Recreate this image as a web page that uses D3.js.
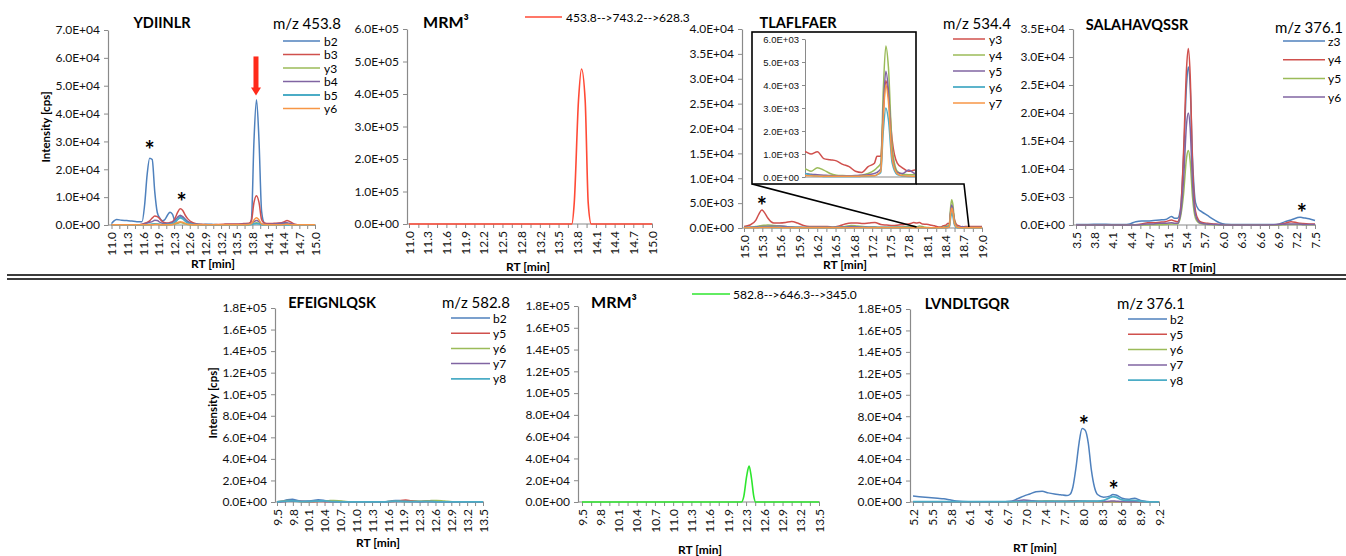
<!DOCTYPE html>
<html><head><meta charset="utf-8">
<script src="https://cdn.jsdelivr.net/npm/d3@7"></script>
<style>
body{margin:0;background:#fff;}
svg{display:block;font-family:Lato,"Open Sans",sans-serif;}
</style></head><body>
<svg id="chart" width="1346" height="556"></svg>
<script>
// ---------------- DATA ----------------
// Panel 1: YDIINLR  m/z 453.8
const p1Names = ["b2","b3","y3","b4","b5","y6"];
const p1XLabels = ["11.0","11.3","11.6","11.9","12.3","12.6","12.9","13.2","13.5","13.8","14.1","14.4","14.7","15.0"];
const p1Time = [11.0,11.05,11.1,11.2,11.3,11.4,11.5,11.6,11.65,11.7,11.75,11.8,11.85,11.9,11.95,12.0,12.05,12.1,12.15,12.2,12.25,12.3,12.35,12.4,12.45,12.5,12.6,12.7,12.8,12.9,13.0,13.1,13.2,13.3,13.4,13.5,13.6,13.7,13.75,13.8,13.85,13.9,13.95,14.0,14.05,14.1,14.2,14.3,14.4,14.45,14.5,14.6,14.7,14.8,14.9,15.0];
const p1B2 = [500,1500,2000,1700,1600,1400,1200,1200, 7000,18000,24000,23500,12000,4500,2500,1500, 2000,3500,4600,3800,1400,2000,3000,2800, 2000,1200,500,300,200,300,200,100, 100,100,100,100,100,200,2000,30000, 45000,30000,5000,800,300,300,400,500, 600,500,300,100,100,100,100,100];
const p1B3 = [100,100,100,100,100,100,100,300, 600,900,1500,2500,3200,3000,2200,1200, 800,700,900,1200,2500,4500,5800,5200, 3500,2200,800,300,200,100,100,200, 300,400,400,400,500,600,1500,8000, 10500,8000,2000,700,500,500,600,700, 1200,1600,1300,300,100,100,100,100];
const p1Y3 = [50,50,50,50,50,50,50,50, 50,50,100,200,300,300,200,100, 100,100,100,200,300,600,900,700, 400,200,100,50,50,50,50,50, 50,50,50,50,50,100,300,600, 800,600,200,100,50,50,50,50, 100,150,100,50,50,50,50,50];
const p1B4 = [100,100,100,100,100,100,100,200, 400,700,1000,1200,1700,1600,1000,600, 500,500,600,900,1800,2800,3500,3000, 2000,1200,400,200,100,100,100,100, 100,200,200,200,300,300,600,1200, 1600,1200,400,300,300,300,400,500, 800,800,600,200,100,100,100,100];
const p1B5 = [50,50,50,50,50,50,50,50, 50,100,200,300,400,300,200,100, 100,200,300,400,1000,2000,2600,2200, 1400,700,200,100,50,50,50,50, 50,50,50,50,50,100,200,400, 500,400,150,50,50,50,50,50, 50,50,50,50,50,50,50,50];
const p1Y6 = [50,50,50,50,50,50,50,50, 50,50,100,100,150,150,100,50, 50,50,100,200,500,900,1200,1000, 600,300,100,50,50,50,50,50, 50,100,100,100,100,200,500,1800, 2600,1800,400,150,100,100,100,100, 200,300,200,100,50,50,50,50];

// Panel 2: MRM3 453.8-->743.2-->628.3
const p2Name = "453.8-->743.2-->628.3";
const p2XLabels = ["11.0","11.3","11.6","11.9","12.2","12.5","12.8","13.2","13.5","13.8","14.1","14.4","14.7","15.0"];
const p2Time = [11.0,12.0,13.0,13.68,13.72,13.79,13.84,13.9,13.95,14.0,15.0];
const p2Val = [0,0,0,0,65000,380000,477000,380000,65000,0,0];

// Panel 3: TLAFLFAER  m/z 534.4
const p3Names = ["y3","y4","y5","y6","y7"];
const p3XLabels = ["15.0","15.3","15.6","15.9","16.2","16.5","16.8","17.2","17.5","17.8","18.1","18.4","18.7","19.0"];
const p3Time = [15.0,15.1,15.2,15.25,15.3,15.35,15.4,
  15.5,15.6,15.7,15.8,15.9,16.0,16.1,16.2,16.3,16.4,16.5,16.6,16.7,16.8,16.9,17.0,17.1,17.2,17.3,17.4,17.5,17.6,17.7,17.8,
  17.85,17.9,17.95,18.0,18.05,18.1,18.15,18.2,18.25,18.3,18.35,
  18.4,18.42,18.45,18.47,18.49,18.51,18.54,18.58,
  18.62,18.67,18.72,18.8,18.9,19.0];
const p3Y3 = [300,600,1600,2800,3600,3000,2000,
  1000,1000,1100,1300,1000,500,300,300,300,300,200,400,800,1000,1000,900,1000,1100,700,600,500,600,700,900,
  1100,1000,1100,800,750,700,550,450,250,200,450,
  600,900,900,2800,4200,3600,1600,600,
  400,250,300,300,300,300];
const p3Y4 = [100,150,300,400,500,550,600,
  500,400,300,200,150,100,100,100,100,100,100,200,300,500,400,300,200,200,150,150,150,200,250,300,
  350,250,400,300,150,80,60,50,50,80,150,
  300,400,600,3800,5700,4800,1300,250,
  120,100,100,100,100,100];
const p3Y5 = [100,150,200,250,300,300,350,
  350,400,300,200,150,100,100,100,100,100,100,150,200,300,250,200,150,150,100,100,100,100,120,120,
  150,120,100,80,60,50,50,50,60,80,100,
  150,200,350,3000,4600,3800,900,200,
  150,300,150,100,100,100];
const p3Y6 = [50,60,80,100,120,120,120,
  100,100,80,60,50,50,50,50,50,50,50,50,50,60,80,100,80,60,50,50,50,50,50,80,
  150,80,40,20,20,20,20,20,20,30,40,
  50,100,200,2000,3000,2500,600,100,
  40,20,20,20,20,20];
const p3Y7 = [50,50,60,80,100,100,100,
  100,80,60,50,50,50,50,50,50,50,50,50,50,50,60,80,60,50,50,50,50,50,50,50,
  60,50,40,30,30,30,30,30,30,40,50,
  50,100,250,2600,4000,3300,800,150,
  60,40,30,30,30,30];
const p3InsetDomain = [17.86,18.72];
const p3ZoomRange = [17.9,18.78];

// Panel 4: SALAHAVQSSR  m/z 376.1
const p4Names = ["z3","y4","y5","y6"];
const p4XLabels = ["3.5","3.8","4.1","4.4","4.7","5.1","5.4","5.7","6.0","6.3","6.6","6.9","7.2","7.5"];
const p4Time = [3.5,3.7,3.9,4.1,4.3,4.4,4.5,4.6, 4.7,4.8,4.9,5.0,5.1,5.15,5.2,5.25, 5.3,5.35,5.38,5.41,5.45,5.5,5.55,5.6, 5.7,5.8,5.9,6.0,6.2,6.4,6.6,6.8, 6.9,7.0,7.1,7.2,7.25,7.3,7.4,7.5];
const p4Z3 = [100,100,150,100,100,200,600,700, 700,800,900,1000,1500,1200,1200,3000, 12000,25000,28200,25000,12000,4000,2800,2400, 1700,1000,400,150,100,100,100,100, 200,600,900,1300,1400,1300,1100,800];
const p4Y4 = [0,0,0,0,0,0,50,200, 400,400,500,600,900,700,600,2500, 13000,28000,31500,27000,11000,2500,900,500, 300,200,100,50,0,0,0,50, 100,300,600,400,300,250,200,200];
const p4Y5 = [0,0,0,0,0,0,0,0, 0,50,50,100,200,200,200,1500, 5500,12000,13300,11500,5000,1200,400,200, 100,50,0,0,0,0,0,0, 0,50,100,100,100,50,50,50];
const p4Y6 = [0,0,0,0,0,0,0,100, 200,200,300,300,400,300,300,2000, 8000,18000,20000,17500,7500,1800,600,300, 150,100,50,0,0,0,0,50, 100,150,200,200,150,100,100,100];

// Panel 5: EFEIGNLQSK  m/z 582.8
const p5Names = ["b2","y5","y6","y7","y8"];
const p5XLabels = ["9.5","9.8","10.1","10.4","10.7","11.0","11.3","11.6","11.9","12.3","12.6","12.9","13.2","13.5"];
const p5Time = [9.5,9.6,9.7,9.8,9.9,10.0,10.1,10.2, 10.3,10.4,10.5,10.6,10.7,10.8,10.9,11.0, 11.2,11.4,11.6,11.7,11.8,11.9,12.0,12.1, 12.2,12.3,12.4,12.5,12.6,12.7,12.8,12.9, 13.0,13.2,13.5];
const p5B2 = [300,800,2000,2500,1500,800,900,1500, 2000,1600,800,500,500,300,200,100, 100,100,300,800,1500,1200,800,700, 600,500,600,500,400,300,200,100, 100,100,100];
const p5Y5 = [200,400,700,800,600,300,200,300, 400,400,300,200,200,100,100,100, 100,100,200,400,800,1500,1800,1200, 700,500,500,400,400,300,200,100, 100,100,100];
const p5Y6 = [200,600,1500,1200,700,400,300,400, 600,900,1200,1500,1200,600,300,100, 100,100,200,500,700,600,500,500, 600,800,1200,1300,1500,1200,600,200, 100,100,100];
const p5Y7 = [100,300,600,800,1000,600,400,500, 800,700,400,300,200,100,100,100, 100,100,100,300,500,500,400,300, 300,300,400,400,300,200,100,100, 100,100,100];
const p5Y8 = [200,500,900,1000,700,400,500,800, 900,1000,600,300,200,100,100,100, 100,100,200,500,800,600,400,300, 300,300,300,300,200,100,100,100, 100,100,100];

// Panel 6: MRM3 582.8-->646.3-->345.0
const p6Name = "582.8-->646.3-->345.0";
const p6XLabels = ["9.5","9.8","10.1","10.4","10.7","11.0","11.3","11.6","11.9","12.3","12.6","12.9","13.2","13.5"];
const p6Time = [9.5,10.5,11.5,12.0,12.19,12.23,12.28,12.32,12.36,12.4,12.43,12.5,13.0,13.5];
const p6Val = [0,0,0,0,0,5000,24000,33000,22000,5000,0,0,0,0];

// Panel 7: LVNDLTGQR  m/z 376.1
const p7Names = ["b2","y5","y6","y7","y8"];
const p7XLabels = ["5.2","5.5","5.8","6.1","6.4","6.7","7.0","7.4","7.7","8.0","8.3","8.6","8.9","9.2"];
const p7Time = [5.2,5.3,5.4,5.5,5.6,5.7,5.8,5.9, 6.0,6.2,6.4,6.6,6.8,6.9,7.0,7.1, 7.2,7.3,7.4,7.5,7.6,7.7,7.75,7.8, 7.85,7.9,7.95,8.0,8.05,8.1,8.15,8.2, 8.3,8.4,8.45,8.5,8.6,8.7,8.8,8.9, 9.0,9.1,9.2];
const p7B2 = [5500,5000,4500,4000,3500,3000,2000,1000, 500,300,300,300,800,3000,5500,7500, 9500,10000,8500,7500,6800,6000,7000,14000, 32000,55000,68500,67000,55000,30000,14000,7000, 4500,5500,7000,6500,3500,2500,3500,1500, 500,200,200];
const p7Y5 = [300,300,300,300,300,300,300,300, 300,300,300,300,300,400,500,500, 500,500,500,500,600,800,1000,1200, 1200,1000,800,600,500,400,400,400, 300,300,300,300,300,300,300,300, 200,200,200];
const p7Y6 = [300,300,300,300,300,300,300,300, 300,300,300,300,300,300,400,500, 600,800,1000,800,500,400,400,400, 400,400,400,400,400,400,400,300, 300,300,300,300,300,300,300,300, 200,200,200];
const p7Y7 = [200,200,200,200,200,200,200,200, 200,200,200,200,400,1000,1800,1500, 800,500,400,400,400,400,400,500, 500,500,500,500,500,400,400,400, 500,800,1000,800,400,300,300,200, 200,200,200];
const p7Y8 = [300,300,300,300,300,300,300,300, 300,300,300,300,300,300,400,500, 500,500,500,500,500,500,500,600, 700,800,800,800,800,800,800,800, 1500,4000,5000,4500,2000,1500,1500,800, 200,100,100];

// ---------------- DRAWING ----------------
const C = {blue:"#4F81BD", red:"#D0504D", green:"#9BBB59", purple:"#8064A2", cyan:"#4BACC6", orange:"#F79646"};
const AXIS = "#8a8a8a";
const TICKFS = 12;
const svg = d3.select("#chart");

function fmtE(v){
  if(v===0) return "0.0E+00";
  const e = Math.floor(Math.log10(v)+1e-9);
  const m = v/Math.pow(10,e);
  return m.toFixed(1)+"E+"+String(e).padStart(2,"0");
}

function drawPanel(p){
  const g = svg.append("g");
  const x = d3.scaleLinear().domain(p.xDomain).range([p.x0,p.x1]);
  const y = d3.scaleLinear().domain([0,p.yMax]).range([p.yBot,p.yTop]);
  // y axis
  const ya = g.append("g").attr("transform",`translate(${p.yAxisX},0)`)
    .call(d3.axisLeft(y).tickValues(d3.range(0,p.yMax+p.yStep/2,p.yStep)).tickSize(4).tickSizeOuter(0).tickPadding(4).tickFormat(fmtE));
  ya.select(".domain").attr("stroke",AXIS).attr("stroke-width",1.2);
  ya.selectAll(".tick line").attr("stroke",AXIS);
  ya.selectAll("text").attr("font-size",TICKFS).attr("fill","#111").attr("font-family","Lato");
  // x axis
  const n = p.xLabels.length;
  const step = (p.xDomain[1]-p.xDomain[0])/(n-1);
  const labelVals = d3.range(n).map(i=>p.xDomain[0]+i*step);
  const minorVals = d3.range(2*n-1).map(i=>p.xDomain[0]+i*step/2);
  const xm = g.append("g").attr("transform",`translate(0,${p.yBot})`)
    .call(d3.axisBottom(x).tickValues(minorVals).tickSize(4).tickFormat(""));
  xm.select(".domain").remove();
  xm.selectAll(".tick line").attr("stroke",AXIS);
  const xa = g.append("g").attr("transform",`translate(0,${p.yBot})`)
    .call(d3.axisBottom(x).tickValues(labelVals).tickSize(0).tickFormat((d,i)=>p.xLabels[i]));
  xa.select(".domain").remove();
  xa.selectAll("text").attr("transform","rotate(-90)").attr("text-anchor","end")
    .attr("x",-7).attr("y",0).attr("dy","0.35em").attr("font-size",TICKFS).attr("fill","#111").attr("font-family","Lato");
  g.append("line").attr("x1",p.yAxisX).attr("x2",p.x1+1).attr("y1",p.yBot).attr("y2",p.yBot)
    .attr("stroke",AXIS).attr("stroke-width",1.2);
  // series
  const line = d3.line().x((d,i)=>x(p.times[i])).y(d=>y(d)).curve(d3.curveMonotoneX);
  p.series.forEach(s=>{
    g.append("path").attr("d",line(s.values)).attr("fill","none")
      .attr("stroke",s.color).attr("stroke-width",s.width||1.5).attr("stroke-linejoin","round");
  });
  // title etc.
  g.append("text").attr("x",p.title[1]).attr("y",p.title[2]).attr("text-anchor","middle")
    .attr("dominant-baseline","central").attr("font-weight","bold").attr("font-size",p.titleFs||14.5).text(p.title[0]);
  if(p.mz) g.append("text").attr("x",p.mz[1]).attr("y",p.mz[2]).attr("dominant-baseline","central")
    .attr("font-size",15).text(p.mz[0]);
  g.append("text").attr("x",p.rt[0]).attr("y",p.rt[1]).attr("text-anchor","middle").attr("dominant-baseline","central")
    .attr("font-weight","bold").attr("font-size",12).text("RT [min]");
  if(p.yTitle) g.append("text").attr("transform",`translate(${p.yTitle[0]},${p.yTitle[1]}) rotate(-90)`)
    .attr("text-anchor","middle").attr("dominant-baseline","central").attr("font-weight","bold").attr("font-size",11.5).text("Intensity [cps]");
  // legend
  const L = p.legend;
  p.series.forEach((s,i)=>{
    const yy = L.y0 + i*L.dy;
    g.append("line").attr("x1",L.x0).attr("x2",L.x1).attr("y1",yy).attr("y2",yy)
      .attr("stroke",s.color).attr("stroke-width",s.width||1.5);
    g.append("text").attr("x",L.tx).attr("y",yy+(L.tdy||0)).attr("dominant-baseline","central")
      .attr("font-size",L.fs||12).text(s.name);
  });
  // asterisks
  (p.stars||[]).forEach(st=>{
    g.append("text").attr("x",x(st[0])).attr("y",y(st[1])+13).attr("text-anchor","middle")
      .attr("font-size",24).attr("font-weight","bold").text("*");
  });
  return {g,x,y,line};
}

function mk(names, arrays, colors, widths){
  return names.map((n,i)=>({name:n, values:arrays[i], color:colors[i], width:(widths&&widths[i])||1.5}));
}

// Panel 1
const P1 = drawPanel({
  xDomain:[11,15], xLabels:p1XLabels, yMax:70000, yStep:10000,
  yAxisX:108, x0:111.5, x1:315, yTop:30, yBot:225, times:p1Time,
  series: mk(p1Names,[p1B2,p1B3,p1Y3,p1B4,p1B5,p1Y6],[C.blue,C.red,C.green,C.purple,C.cyan,C.orange],[1.5,1.5,1.5,1.5,1.8,1.5]),
  title:["YDIINLR",162,22], mz:["m/z 453.8",273,23], rt:[213,263], yTitle:[45,127],
  legend:{x0:283,x1:320,tx:324,y0:41,dy:13.5,fs:12},
  stars:[[11.75,28400],[12.38,9700]]
});
// red arrow over main peak
(function(){
  const ax = P1.x(13.84), yTop = P1.y(60500), yTip = P1.y(46500);
  P1.g.append("rect").attr("x",ax-2.5).attr("y",yTop).attr("width",5).attr("height",(yTip-yTop)-7).attr("fill","#FF2A1A");
  P1.g.append("path").attr("d",`M${ax-5},${yTip-8}L${ax+5},${yTip-8}L${ax},${yTip}Z`).attr("fill","#FF2A1A");
})();

// Panel 2
drawPanel({
  xDomain:[11,15], xLabels:p2XLabels, yMax:600000, yStep:100000,
  yAxisX:407, x0:409, x1:652, yTop:29, yBot:224, times:p2Time,
  series:[{name:p2Name, values:p2Val, color:"#FF4A36", width:1.6}],
  title:["MRM³",446,21], titleFs:16, rt:[528,266],
  legend:{x0:525,x1:562,tx:566,y0:17,dy:0,fs:12}
});

// Panel 3
const P3 = drawPanel({
  xDomain:[15,19], xLabels:p3XLabels, yMax:40000, yStep:5000,
  yAxisX:742, x0:744, x1:982, yTop:29, yBot:228, times:p3Time,
  series: mk(p3Names,[p3Y3,p3Y4,p3Y5,p3Y6,p3Y7],[C.red,C.green,C.purple,C.cyan,C.orange],[1.5,1.5,1.5,1.8,1.5]),
  title:["TLAFLFAER",798,22], mz:["m/z 534.4",943,23], rt:[845,264],
  legend:{x0:953,x1:985,tx:989,y0:39,dy:16,fs:12},
  stars:[[15.3,5200]]
});
// inset
(function(){
  const g = P3.g;
  const bx0=752, bx1=916, by0=32, by1=184;
  const zx0 = P3.x(p3ZoomRange[0]), zx1 = P3.x(p3ZoomRange[1]), zy = P3.y(0)-1;
  g.append("path").attr("d",`M${bx0},${by1}L${zx0},${zy}`).attr("stroke","#000").attr("stroke-width",1.6).attr("fill","none");
  g.append("path").attr("d",`M${bx1},${by1}L964,${by1}L${zx1},${zy}`).attr("stroke","#000").attr("stroke-width",1.6).attr("fill","none");
  g.append("rect").attr("x",bx0).attr("y",by0).attr("width",bx1-bx0).attr("height",by1-by0)
    .attr("fill","#fff").attr("stroke","#000").attr("stroke-width",1.6);
  const ix = d3.scaleLinear().domain(p3InsetDomain).range([806,915]);
  const iy = d3.scaleLinear().domain([0,6000]).range([177,39]);
  const ya = g.append("g").attr("transform","translate(805,0)")
    .call(d3.axisLeft(iy).tickValues(d3.range(0,6001,1000)).tickSize(3).tickSizeOuter(0).tickPadding(3).tickFormat(fmtE));
  ya.select(".domain").attr("stroke",AXIS);
  ya.selectAll(".tick line").attr("stroke",AXIS);
  ya.selectAll("text").attr("font-size",9.5).attr("fill","#111");
  g.append("line").attr("x1",805).attr("x2",915).attr("y1",177).attr("y2",177).attr("stroke",AXIS);
  g.append("clipPath").attr("id","insetClip").append("rect").attr("x",805).attr("y",34).attr("width",110).attr("height",148);
  const il = d3.line().x((d,i)=>ix(p3Time[i])).y(d=>iy(d)).curve(d3.curveMonotoneX);
  const cols=[C.red,C.green,C.purple,C.cyan,C.orange];
  [p3Y3,p3Y4,p3Y5,p3Y6,p3Y7].forEach((arr,i)=>{
    g.append("path").attr("clip-path","url(#insetClip)").attr("d",il(arr)).attr("fill","none")
      .attr("stroke",cols[i]).attr("stroke-width",1.5);
  });
})();

// Panel 4
drawPanel({
  xDomain:[3.5,7.5], xLabels:p4XLabels, yMax:35000, yStep:5000,
  yAxisX:1073, x0:1076, x1:1315, yTop:29, yBot:225, times:p4Time,
  series: mk(p4Names,[p4Z3,p4Y4,p4Y5,p4Y6],[C.blue,C.red,C.green,C.purple]),
  title:["SALAHAVQSSR",1137,24], mz:["m/z 376.1",1275,27], rt:[1194,267],
  legend:{x0:1283,x1:1325,tx:1328,y0:41,dy:18.7,fs:12},
  stars:[[7.28,2900]]
});

// separator
svg.append("line").attr("x1",7).attr("x2",1346).attr("y1",275).attr("y2",275).attr("stroke","#3c3c3c").attr("stroke-width",1.8);
svg.append("line").attr("x1",7).attr("x2",1346).attr("y1",279).attr("y2",279).attr("stroke","#3c3c3c").attr("stroke-width",1.8);

// Panel 5
drawPanel({
  xDomain:[9.5,13.5], xLabels:p5XLabels, yMax:180000, yStep:20000,
  yAxisX:275, x0:277, x1:483, yTop:308, yBot:502, times:p5Time,
  series: mk(p5Names,[p5B2,p5Y5,p5Y6,p5Y7,p5Y8],[C.blue,C.red,C.green,C.purple,C.cyan],[1.5,1.5,1.5,1.5,1.8]),
  title:["EFEIGNLQSK",332,302], mz:["m/z 582.8",442,302], rt:[378,542], yTitle:[212,403],
  legend:{x0:451,x1:490,tx:493,y0:318,dy:15.2,fs:12}
});

// Panel 6
drawPanel({
  xDomain:[9.5,13.5], xLabels:p6XLabels, yMax:180000, yStep:20000,
  yAxisX:578, x0:582, x1:819, yTop:306, yBot:502, times:p6Time,
  series:[{name:p6Name, values:p6Val, color:"#2EE62E", width:1.6}],
  title:["MRM³",614,301], titleFs:16, rt:[700,549],
  legend:{x0:692,x1:730,tx:733,y0:294,dy:0,fs:12}
});

// Panel 7
drawPanel({
  xDomain:[5.2,9.2], xLabels:p7XLabels, yMax:180000, yStep:20000,
  yAxisX:910, x0:913, x1:1159, yTop:309, yBot:502, times:p7Time,
  series: mk(p7Names,[p7B2,p7Y5,p7Y6,p7Y7,p7Y8],[C.blue,C.red,C.green,C.purple,C.cyan],[1.5,1.5,1.5,1.5,1.8]),
  title:["LVNDLTGQR",967,303], mz:["m/z 376.1",1117,303], rt:[1035,547],
  legend:{x0:1128,x1:1167,tx:1170,y0:319,dy:15.3,fs:12},
  stars:[[7.98,76000],[8.46,14500]]
});
</script>
</body></html>
